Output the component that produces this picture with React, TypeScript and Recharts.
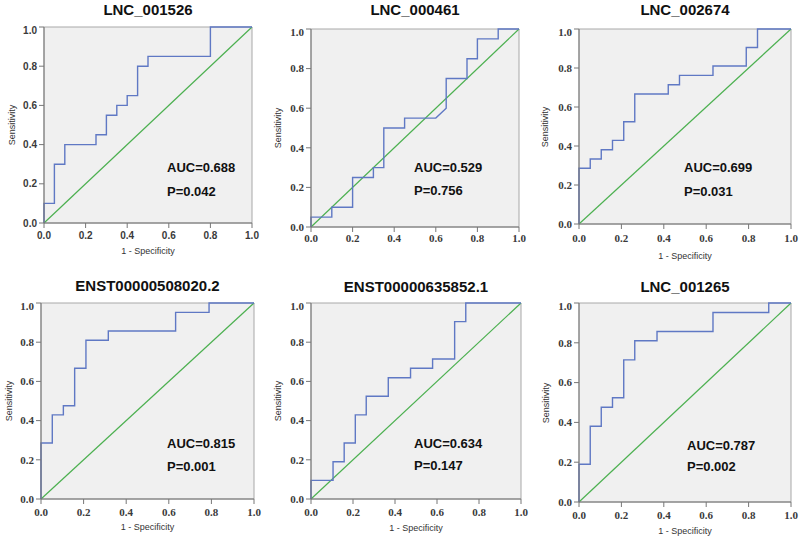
import React from "react";
import { LineChart, Line, XAxis, YAxis, ReferenceArea, ReferenceLine } from "recharts";

// ROC points (1 - specificity, sensitivity)
const fpr1 = [0, 0, 0.05, 0.05, 0.1, 0.1, 0.25, 0.25, 0.3, 0.3, 0.35, 0.35, 0.4, 0.4, 0.45, 0.45, 0.5, 0.5, 0.8, 0.8, 1];
const tpr1 = [0, 0.1, 0.1, 0.3, 0.3, 0.4, 0.4, 0.45, 0.45, 0.55, 0.55, 0.6, 0.6, 0.65, 0.65, 0.8, 0.8, 0.85, 0.85, 1, 1];

const fpr2 = [0, 0, 0.1, 0.1, 0.2, 0.2, 0.3, 0.3, 0.35, 0.35, 0.45, 0.45, 0.6, 0.65, 0.65, 0.75, 0.75, 0.8, 0.8, 0.9, 0.9, 1];
const tpr2 = [0, 0.05, 0.05, 0.1, 0.1, 0.25, 0.25, 0.3, 0.3, 0.5, 0.5, 0.55, 0.55, 0.6, 0.75, 0.75, 0.85, 0.85, 0.95, 0.95, 1, 1];

const fpr3 = [0, 0, 0.053, 0.053, 0.105, 0.105, 0.158, 0.158, 0.211, 0.211, 0.263, 0.263, 0.421, 0.421, 0.474, 0.474, 0.632, 0.632, 0.789, 0.789, 0.842, 0.842, 1];
const tpr3 = [0, 0.286, 0.286, 0.333, 0.333, 0.381, 0.381, 0.429, 0.429, 0.524, 0.524, 0.667, 0.667, 0.714, 0.714, 0.762, 0.762, 0.81, 0.81, 0.905, 0.905, 1, 1];

const fpr4 = [0, 0, 0.053, 0.053, 0.105, 0.105, 0.158, 0.158, 0.211, 0.211, 0.316, 0.316, 0.632, 0.632, 0.789, 0.789, 1];
const tpr4 = [0, 0.286, 0.286, 0.429, 0.429, 0.476, 0.476, 0.667, 0.667, 0.81, 0.81, 0.857, 0.857, 0.952, 0.952, 1, 1];

const fpr5 = [0, 0, 0.105, 0.105, 0.158, 0.158, 0.211, 0.211, 0.263, 0.263, 0.368, 0.368, 0.474, 0.474, 0.579, 0.579, 0.684, 0.684, 0.737, 0.737, 1];
const tpr5 = [0, 0.095, 0.095, 0.19, 0.19, 0.286, 0.286, 0.429, 0.429, 0.524, 0.524, 0.619, 0.619, 0.667, 0.667, 0.714, 0.714, 0.905, 0.905, 1, 1];

const fpr6 = [0, 0, 0.053, 0.053, 0.105, 0.105, 0.158, 0.158, 0.211, 0.211, 0.263, 0.263, 0.368, 0.368, 0.632, 0.632, 0.895, 0.895, 1];
const tpr6 = [0, 0.19, 0.19, 0.381, 0.381, 0.476, 0.476, 0.524, 0.524, 0.714, 0.714, 0.81, 0.81, 0.857, 0.857, 0.952, 0.952, 1, 1];

const titles = ["LNC_001526", "LNC_000461", "LNC_002674", "ENST00000508020.2", "ENST00000635852.1", "LNC_001265"];
const aucLabels = ["AUC=0.688", "AUC=0.529", "AUC=0.699", "AUC=0.815", "AUC=0.634", "AUC=0.787"];
const pLabels = ["P=0.042", "P=0.756", "P=0.031", "P=0.001", "P=0.147", "P=0.002"];
const ticks = [0, 0.2, 0.4, 0.6, 0.8, 1.0];

const curves = [
  [fpr1, tpr1],
  [fpr2, tpr2],
  [fpr3, tpr3],
  [fpr4, tpr4],
  [fpr5, tpr5],
  [fpr6, tpr6],
];

// plot boxes on the page and where the texts sit (xLabY 0 = label cut off)
const layout = [
  { x0: 44, x1: 252, y0: 27, y1: 223, tickGap: 3, titleY: 10, xLabY: 251, yLabX: 12, textX: 167, aucY: 168, pY: 192, serif: false },
  { x0: 311, x1: 519, y0: 29, y1: 227, tickGap: 2, titleY: 10, xLabY: 0, yLabX: 278, textX: 414, aucY: 168, pY: 191, serif: true },
  { x0: 579, x1: 791, y0: 29, y1: 224, tickGap: 5, titleY: 10, xLabY: 256, yLabX: 545, textX: 684, aucY: 168, pY: 192, serif: true },
  { x0: 41, x1: 254, y0: 303, y1: 499, tickGap: 4, titleY: 286, xLabY: 527, yLabX: 9, textX: 167, aucY: 444, pY: 467, serif: true },
  { x0: 311, x1: 521, y0: 303, y1: 499, tickGap: 4, titleY: 287, xLabY: 528, yLabX: 278, textX: 414, aucY: 444, pY: 466, serif: true },
  { x0: 579, x1: 791, y0: 303, y1: 502, tickGap: 4, titleY: 287, xLabY: 531, yLabX: 546, textX: 687, aucY: 446, pY: 467, serif: true },
];

const SANS = "'Liberation Sans', Arial, sans-serif";
const SERIF = "'Liberation Serif', 'Times New Roman', serif";
const BLUE = "#5f78c4";
const GREEN = "#4cb050";

const YW = 50;
const XH = 40;
const MT = 6;
const MR = 12;

const makeTick = (fam: string, size: number, axis: "x" | "y") => (props: any) => {
  const { x, y, payload } = props;
  return (
    <text
      x={x}
      y={y}
      dy={axis === "x" ? "0.75em" : "0.35em"}
      textAnchor={axis === "x" ? "middle" : "end"}
      fontFamily={fam}
      fontSize={size}
      fontWeight="bold"
      fill="#3a3a3a"
    >
      {Number(payload.value).toFixed(1)}
    </text>
  );
};

function Panel({ i }: { i: number }) {
  const L = layout[i];
  const [fpr, tpr] = curves[i];
  const data = fpr.map((x, k) => ({ x, y: tpr[k] }));
  const w = L.x1 - L.x0 + YW + MR;
  const h = L.y1 - L.y0 + MT + XH;
  const fam = L.serif ? SERIF : SANS;
  const size = L.serif ? 11 : 10;
  const midX = (L.x0 + L.x1) / 2;
  const midY = (L.y0 + L.y1) / 2;
  const txt = { position: "absolute" as const, fontFamily: SANS, whiteSpace: "nowrap" as const };
  return (
    <>
      <div style={{ position: "absolute", left: L.x0 - YW, top: L.y0 - MT }}>
        <LineChart width={w} height={h} margin={{ top: MT, right: MR, bottom: 0, left: 0 }}>
          <XAxis
            type="number"
            dataKey="x"
            domain={[0, 1]}
            ticks={ticks}
            height={XH}
            tickSize={5}
            tickMargin={L.tickGap}
            tick={makeTick(fam, size, "x")}
            stroke="#777"
          />
          <YAxis
            type="number"
            dataKey="y"
            domain={[0, 1]}
            ticks={ticks}
            width={YW}
            tickSize={5}
            tickMargin={2}
            tick={makeTick(fam, size, "y")}
            stroke="#777"
          />
          <ReferenceArea x1={0} x2={1} y1={0} y2={1} fill="#f0f0f0" fillOpacity={1} stroke="#a8a8a8" />
          <ReferenceLine segment={[{ x: 0, y: 0 }, { x: 1, y: 1 }]} stroke={GREEN} strokeWidth={1.2} />
          <Line data={data} dataKey="y" type="linear" stroke={BLUE} strokeWidth={1.4} dot={false} isAnimationActive={false} />
        </LineChart>
      </div>
      <div style={{ ...txt, left: midX - 100, width: 200, top: L.titleY - 9, lineHeight: "18px", textAlign: "center", fontSize: 15, fontWeight: "bold", color: "#111" }}>
        {titles[i]}
      </div>
      {L.xLabY > 0 && (
        <div style={{ ...txt, left: midX - 60, width: 120, top: L.xLabY - 6, lineHeight: "12px", textAlign: "center", fontSize: 9, color: "#333" }}>
          1 - Specificity
        </div>
      )}
      <div style={{ ...txt, left: L.yLabX - 40, width: 80, top: midY - 6, lineHeight: "12px", textAlign: "center", fontSize: 9, color: "#333", transform: "rotate(-90deg)" }}>
        Sensitivity
      </div>
      <div style={{ ...txt, left: L.textX, top: L.aucY - 8, lineHeight: "16px", fontSize: 13, fontWeight: "bold", color: "#111" }}>
        {aucLabels[i]}
      </div>
      <div style={{ ...txt, left: L.textX, top: L.pY - 8, lineHeight: "16px", fontSize: 13, fontWeight: "bold", color: "#111" }}>
        {pLabels[i]}
      </div>
    </>
  );
}

export default function App() {
  return (
    <div style={{ position: "absolute", left: 0, top: 0, width: 800, height: 539, background: "#fff", overflow: "hidden" }}>
      {layout.map((_, i) => (
        <Panel key={i} i={i} />
      ))}
    </div>
  );
}
